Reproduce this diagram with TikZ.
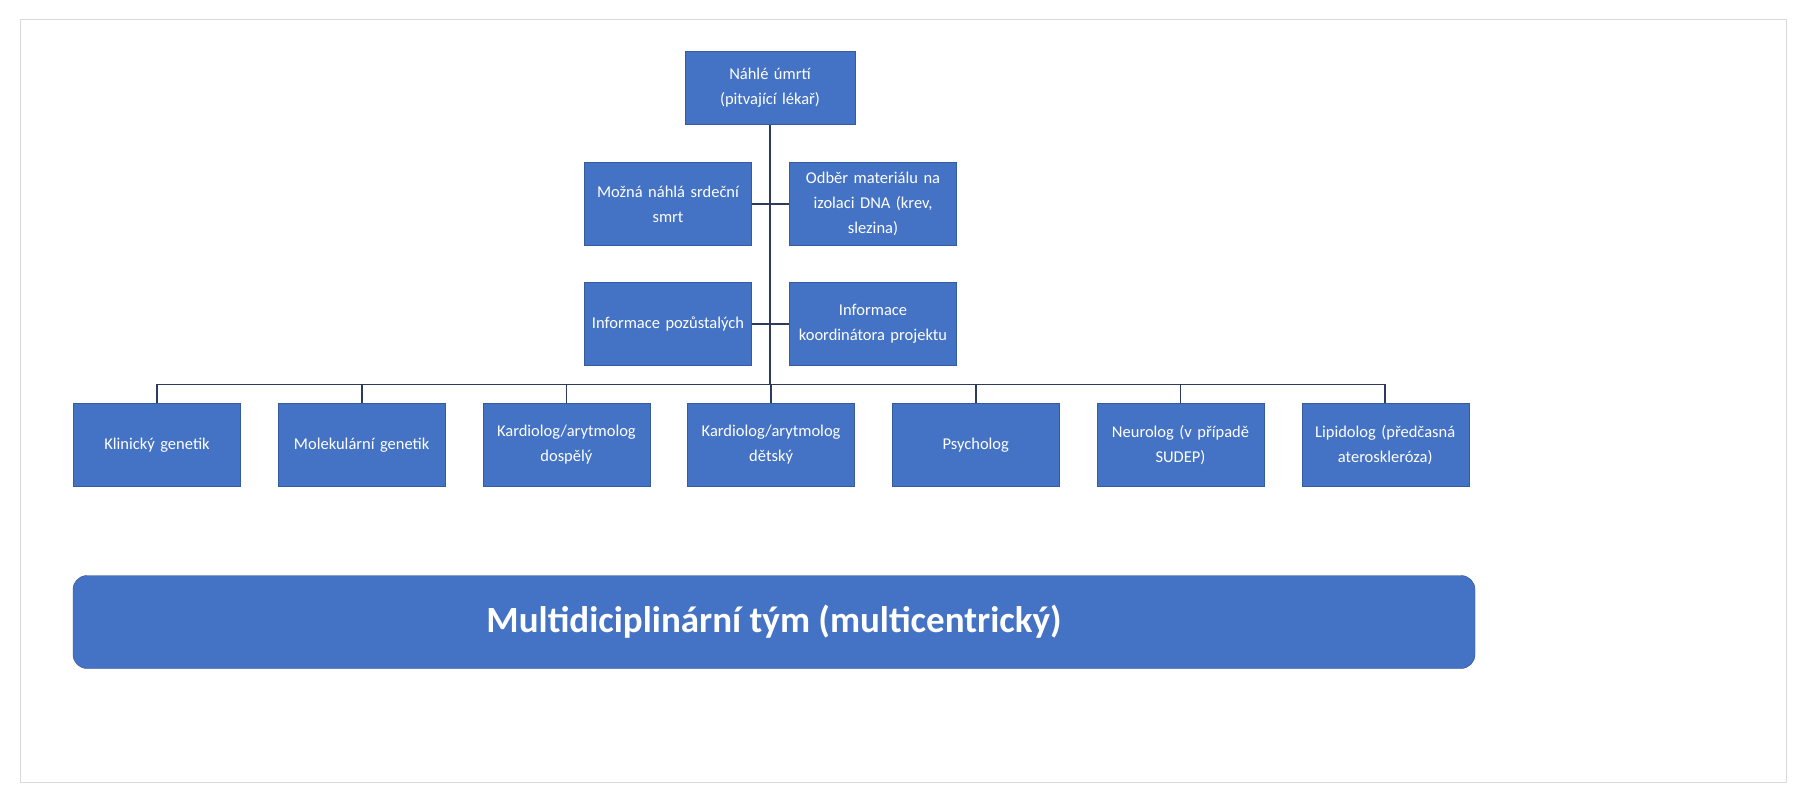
\documentclass[tikz,border=0pt]{standalone}
\usepackage{fontspec}
\setmainfont{Carlito}
\definecolor{boxblue}{HTML}{4472C4}
\definecolor{linenavy}{HTML}{2E3A5C}
\tikzset{
    box/.style={fill=boxblue, draw=boxblue!80!black, text=white, align=center,
        minimum width=167pt, minimum height=83pt, text width=163pt, inner sep=2pt,
        font=\fontsize{16.5}{25}\selectfont},
    link/.style={draw=linenavy, line width=1.6pt}
}
\begin{document}
\begin{tikzpicture}[x=1pt,y=-1pt]
    \useasboundingbox (0,0) rectangle (1806,800);
    \draw[black!15, line width=1pt] (20,20) rectangle (1786,782);

    %% Top of the tree
    \node[box, minimum width=170pt, minimum height=73pt] (death) at (770,88) {Náhlé úmrtí\\(pitvající lékař)};
    \node[box] (cardiac) at (668,204) {Možná náhlá srdeční\\smrt};
    \node[box] (sample) at (873,204) {Odběr materiálu na\\izolaci DNA (krev,\\slezina)};
    \node[box] (relatives) at (668,324) {Informace pozůstalých};
    \node[box] (coord) at (873,324) {Informace\\koordinátora projektu};

    %% Trunk and side links
    \coordinate (bus) at (770,384);
    \draw[link] (death.south) -- (bus);
    \draw[link] (cardiac.east) -- (sample.west);
    \draw[link] (relatives.east) -- (coord.west);

    %% Specialists
    \foreach \i/\name/\txt in {0/clin/{Klinický genetik}, 1/mol/{Molekulární genetik},
        2/kadult/{Kardiolog/arytmolog\\dospělý}, 3/kchild/{Kardiolog/arytmolog\\dětský},
        4/psych/{Psycholog}, 5/neuro/{Neurolog (v případě\\SUDEP)},
        6/lipid/{Lipidolog (předčasná\\ateroskleróza)}} {
        \node[box] (\name) at (157+204.7*\i,445) {\txt};
        \draw[link] (\name.north) -- ++(0,-19) -| (bus);
    }

    %% Team
    \node[fill=boxblue, draw=boxblue!70!black, rounded corners=14pt, minimum width=1402pt,
        minimum height=93pt, text=white, font=\fontsize{37}{40}\selectfont\bfseries]
        (team) at (774,622) {Multidiciplinární tým (multicentrický)};
\end{tikzpicture}
\end{document}
